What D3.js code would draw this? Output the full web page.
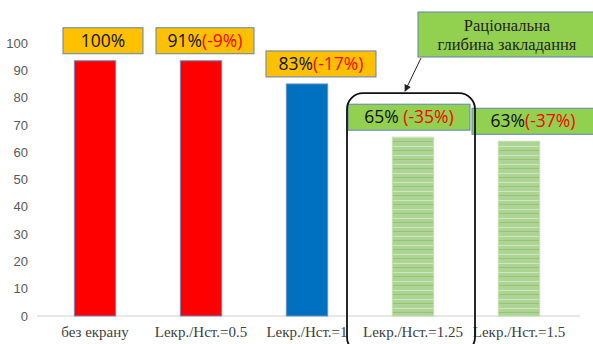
<!DOCTYPE html>
<meta charset="utf-8">
<style>
body { margin: 0; background: #fff; }
.tick text { font-family: "Liberation Sans", Arial, sans-serif; font-size: 13px; fill: #595959; }
.cat { font-family: "Liberation Serif", "Times New Roman", serif; font-size: 15px; fill: #404040; }
.lbl { font-family: "Open Sans", "Liberation Sans", sans-serif; font-size: 17.5px; }
.note { font-family: "Liberation Serif", "Times New Roman", serif; font-size: 16.5px; fill: #222; }
</style>
<svg width="593" height="344"></svg>
<script src="https://d3js.org/d3.v7.min.js"></script>
<script>

var categories = ["без екрану", "Lекр./Hст.=0.5", "Lекр./Hст.=1", "Lекр./Hст.=1.25", "Lекр./Hст.=1.5"];
var values = [93.5, 93.5, 85, 65.5, 64];
var mainText = ["100%", "91%", "83%", "65% ", "63%"];
var deltaText = ["", "(-9%)", "(-17%)", "(-35%)", "(-37%)"];
var yTicks = [0, 10, 20, 30, 40, 50, 60, 70, 80, 90, 100];
var noteLines = ["Раціональна", "глибина закладання"];

var barFill = ["#ff0000", "#ff0000", "#0070c0", "url(#stripes)", "url(#stripes)"];
var boxFill = ["#ffc000", "#ffc000", "#ffc000", "#92d050", "#92d050"];
var boxShift = [8, 4, 14, -4, 14];
var boxWidth = [80, 98, 110, 122, 122];

var svg = d3.select("svg");

var defs = svg.append("defs");
var pat = defs.append("pattern")
    .attr("id", "stripes")
    .attr("patternUnits", "userSpaceOnUse")
    .attr("width", 8).attr("height", 9);
pat.append("rect").attr("width", 8).attr("height", 9).attr("fill", "#aed495");
pat.append("rect").attr("y", 2).attr("width", 8).attr("height", 1).attr("fill", "#cfe7bf");
pat.append("rect").attr("y", 6).attr("width", 8).attr("height", 1).attr("fill", "#93c672");
defs.append("marker")
    .attr("id", "arrow")
    .attr("viewBox", "0 0 10 10")
    .attr("refX", 9).attr("refY", 5)
    .attr("markerWidth", 7).attr("markerHeight", 7)
    .attr("orient", "auto")
  .append("path")
    .attr("d", "M0,0L10,5L0,10z")
    .attr("fill", "#222");

var x = d3.scaleBand()
    .domain(categories)
    .range([42, 572])
    .paddingInner(0.61)
    .paddingOuter(0.305);

var y = d3.scaleLinear()
    .domain([0, 100])
    .range([316, 43]);

// y axis, labels only
svg.append("g")
    .attr("transform", "translate(36,0)")
    .call(d3.axisLeft(y).tickValues(yTicks).tickSize(0).tickPadding(8))
  .call(function(g) { g.select(".domain").remove(); });

// baseline
svg.append("line")
    .attr("x1", 37).attr("x2", 580)
    .attr("y1", y(0)).attr("y2", y(0))
    .attr("stroke", "#d0d0d0").attr("stroke-width", 1);

// bars
svg.selectAll(".bar")
  .data(values)
  .enter().append("rect")
    .attr("class", "bar")
    .attr("x", function(d, i) { return x(categories[i]); })
    .attr("y", function(d) { return y(d); })
    .attr("width", x.bandwidth())
    .attr("height", function(d) { return y(0) - y(d); })
    .attr("fill", function(d, i) { return barFill[i]; })
    .attr("stroke", function(d, i) { return i < 3 ? "#6d8fc0" : "#c2e0ad"; })
    .attr("stroke-width", 1);

// category labels
svg.selectAll(".cat")
  .data(categories)
  .enter().append("text")
    .attr("class", "cat")
    .attr("x", function(d) { return x(d) + x.bandwidth() / 2; })
    .attr("y", 337)
    .attr("text-anchor", "middle")
    .text(function(d) { return d; });

// value label boxes
var lab = svg.selectAll(".vlab")
  .data(values)
  .enter().append("g")
    .attr("class", "vlab")
    .attr("transform", function(d, i) {
      return "translate(" + (x(categories[i]) + x.bandwidth() / 2 + boxShift[i]) + "," + (y(d) - 7) + ")";
    });

lab.append("rect")
    .attr("x", function(d, i) { return -boxWidth[i] / 2; })
    .attr("y", -26)
    .attr("width", function(d, i) { return boxWidth[i]; })
    .attr("height", 26)
    .attr("fill", function(d, i) { return boxFill[i]; })
    .attr("stroke", "#5f83b5")
    .attr("stroke-width", 1);

var t = lab.append("text")
    .attr("class", "lbl")
    .attr("text-anchor", "middle")
    .attr("y", -7);
t.append("tspan").attr("fill", "#111").text(function(d, i) { return mainText[i]; });
t.append("tspan").attr("fill", "#ff0000").text(function(d, i) { return deltaText[i]; });

// highlight frame around the rational depth
var hi = categories[3];
svg.append("rect")
    .attr("x", x(hi) + x.bandwidth() / 2 - 66)
    .attr("y", y(values[3]) - 44)
    .attr("width", 128)
    .attr("height", 260)
    .attr("rx", 16)
    .attr("fill", "none")
    .attr("stroke", "#111")
    .attr("stroke-width", 1.8);

// callout
var note = svg.append("g").attr("transform", "translate(418,12)");
note.append("rect")
    .attr("width", 180).attr("height", 45)
    .attr("fill", "#92d050")
    .attr("stroke", "#5f83b5");
note.selectAll("text")
  .data(noteLines)
  .enter().append("text")
    .attr("class", "note")
    .attr("x", 89)
    .attr("y", function(d, i) { return 19 + i * 19; })
    .attr("text-anchor", "middle")
    .text(function(d) { return d; });

svg.append("line")
    .attr("x1", 421).attr("y1", 58)
    .attr("x2", x(hi) + x.bandwidth() / 2 - 8).attr("y2", y(values[3]) - 46)
    .attr("stroke", "#222").attr("stroke-width", 1)
    .attr("marker-end", "url(#arrow)");

</script>
